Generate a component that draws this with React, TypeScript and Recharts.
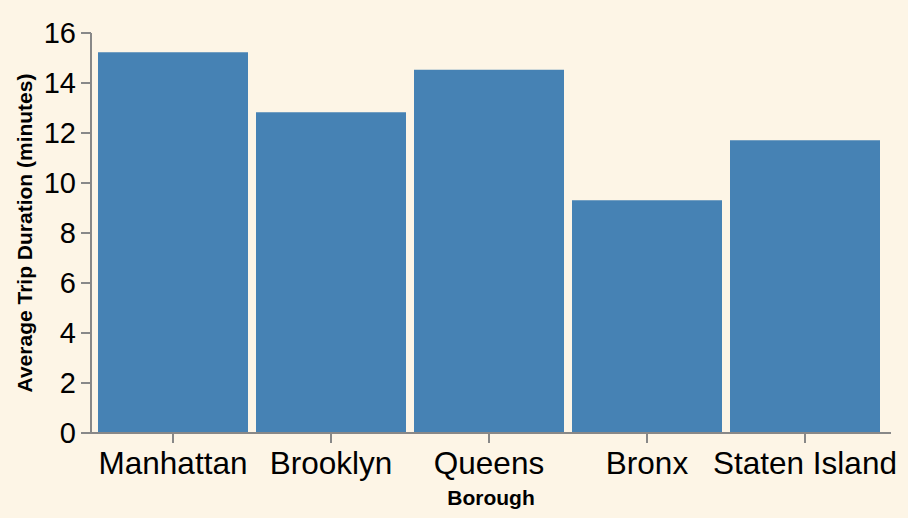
import { BarChart, Bar, XAxis, YAxis, Label } from 'recharts';

const boroughs = ['Manhattan', 'Brooklyn', 'Queens', 'Bronx', 'Staten Island'];
const avgDuration = [15.23, 12.83, 14.53, 9.31, 11.71];
const yTicks = [0, 2, 4, 6, 8, 10, 12, 14, 16];

const data = boroughs.map((b, i) => ({ borough: b, duration: avgDuration[i] }));

const FONT = '"Liberation Sans", Arial, Helvetica, sans-serif';
const AXIS = '#888888';

function YTitle({ viewBox }: { viewBox?: { x: number; y: number; width: number; height: number } }) {
  if (!viewBox) return null;
  const cx = 24;
  const cy = viewBox.y + viewBox.height / 2;
  return (
    <text x={cx} y={cy} transform={`rotate(-90, ${cx}, ${cy})`} textAnchor="middle" dominantBaseline="central"
      fontFamily={FONT} fontWeight="bold" fontSize={21} fill="#000">
      Average Trip Duration (minutes)
    </text>
  );
}

function XTitle({ viewBox }: { viewBox?: { x: number; y: number; width: number; height: number } }) {
  if (!viewBox) return null;
  return (
    <text x={viewBox.x + viewBox.width / 2} y={505} textAnchor="middle"
      fontFamily={FONT} fontWeight="bold" fontSize={21} fill="#000">
      Borough
    </text>
  );
}

export default function App() {
  return (
    <div style={{ position: 'fixed', left: 0, top: 0, width: 908, height: 518, background: '#fdf5e6' }}>
      <BarChart width={908} height={518} data={data} barCategoryGap={4}
        margin={{ top: 33, right: 17, bottom: 0, left: 0 }}>
        <XAxis dataKey="borough" height={85} padding={{ left: 3, right: 7 }}
          axisLine={{ stroke: AXIS, strokeWidth: 2 }} tickLine={{ stroke: AXIS, strokeWidth: 2 }}
          tickSize={10} tickMargin={9} interval={0}
          tick={{ fill: '#000', fontSize: 31.5, fontFamily: FONT }}>
          <Label content={<XTitle />} />
        </XAxis>
        <YAxis width={91} domain={[0, 16]} ticks={yTicks} interval={0}
          axisLine={{ stroke: AXIS, strokeWidth: 2 }} tickLine={{ stroke: AXIS, strokeWidth: 2 }}
          tickSize={10} tickMargin={5}
          tick={{ fill: '#000', fontSize: 29, fontFamily: FONT }}>
          <Label content={<YTitle />} />
        </YAxis>
        <Bar dataKey="duration" fill="#4682b4" isAnimationActive={false} />
      </BarChart>
    </div>
  );
}
